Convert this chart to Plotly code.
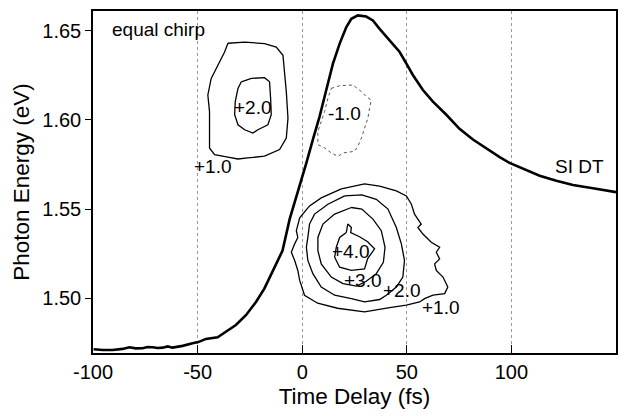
import plotly.graph_objects as go

# SI DT spectral-intensity trace (time delay fs, photon energy eV)
si_t = [-99.7, -95.4, -90.6, -85.9, -82.6, -79.6, -76.3, -73.9, -71.5, -69.1, -66.7, -64.3,
        -62.0, -59.6, -57.2, -52.4, -49.7, -46.0, -40.4, -36.5, -31.7, -26.9, -22.1, -18.1,
        -15.0, -11.8, -9.4, -6.0, -1.2, 2.0, 5.1, 8.3, 11.5, 14.7, 17.9, 21.1, 23.5, 26.6,
        30.6, 33.8, 37.0, 41.8, 46.6, 49.8, 52.9, 57.7, 62.5, 68.9, 75.2, 81.6, 88.8, 94.4,
        99.1, 107.1, 113.5, 121.5, 129.4, 139.0, 148.5, 150.0]
si_e = [1.4714, 1.4710, 1.4710, 1.4716, 1.4725, 1.4719, 1.4720, 1.4727, 1.4725, 1.4721, 1.4723, 1.4730,
        1.4723, 1.4728, 1.4733, 1.4748, 1.4754, 1.4772, 1.4781, 1.4812, 1.4850, 1.4905, 1.4979, 1.5054,
        1.5128, 1.5212, 1.5267, 1.5444, 1.5629, 1.5759, 1.5890, 1.6019, 1.6168, 1.6316, 1.6428, 1.6521,
        1.6567, 1.6586, 1.6580, 1.6558, 1.6511, 1.6447, 1.6381, 1.6316, 1.6252, 1.6168, 1.6103, 1.6029,
        1.5950, 1.5890, 1.5834, 1.5792, 1.5759, 1.5719, 1.5687, 1.5659, 1.5635, 1.5617, 1.5598, 1.5595]

# contour outlines (level, time, energy)
c_top1_t = [-35.5, -27.5, -18.0, -12.4, -9.2, -8.4, -7.6, -6.8, -7.6, -10.8, -18.0, -26.0, -30.7,
            -35.5, -41.9, -44.3, -44.3, -44.3, -45.1, -43.5, -40.3, -37.1, -35.5]
c_top1_e = [1.6430, 1.6437, 1.6428, 1.6409, 1.6363, 1.6270, 1.6159, 1.6010, 1.5898, 1.5834, 1.5797,
            1.5787, 1.5781, 1.5791, 1.5806, 1.5843, 1.5936, 1.6047, 1.6140, 1.6233, 1.6307, 1.6381, 1.6430]
c_top2_t = [-29.1, -24.3, -18.0, -15.6, -15.1, -14.8, -16.4, -21.2, -23.6, -27.5, -30.7, -32.3,
            -32.0, -30.7, -29.1]
c_top2_e = [1.6214, 1.6233, 1.6237, 1.6214, 1.6121, 1.6029, 1.5973, 1.5945, 1.5926, 1.5945, 1.5973,
            1.6029, 1.6103, 1.6177, 1.6214]
c_neg1_t = [13.9, 17.9, 24.2, 28.3, 30.6, 33.0, 32.2, 31.4, 29.8, 28.3, 26.6, 25.0, 19.5, 17.1,
            13.9, 10.7, 7.5, 7.5, 9.1, 10.7, 12.3, 13.9]
c_neg1_e = [1.6177, 1.6192, 1.6196, 1.6159, 1.6131, 1.6112, 1.6066, 1.6010, 1.5954, 1.5898, 1.5852,
            1.5824, 1.5815, 1.5796, 1.5815, 1.5843, 1.5862, 1.5936, 1.5991, 1.6047, 1.6121, 1.6177]
c_b1_t = [18.7, 29.8, 37.0, 45.0, 49.8, 52.2, 53.7, 56.9, 55.3, 57.7, 61.7, 65.7, 64.1, 65.7, 63.3,
          64.1, 67.3, 69.6, 68.1, 62.5, 58.5, 56.1, 49.8, 41.8, 29.8, 16.9, 7.4, 1.1, -1.2, -2.1,
          -3.6, -5.2, -3.6, -2.1, -2.8, -1.2, 3.5, 9.1, 18.7]
c_b1_e = [1.5613, 1.5641, 1.5629, 1.5602, 1.5574, 1.5527, 1.5472, 1.5416, 1.5397, 1.5360, 1.5314,
          1.5286, 1.5258, 1.5221, 1.5193, 1.5156, 1.5119, 1.5063, 1.5026, 1.5017, 1.4998, 1.4979,
          1.4961, 1.4948, 1.4924, 1.4944, 1.4972, 1.5017, 1.5100, 1.5156, 1.5212, 1.5258, 1.5305,
          1.5341, 1.5379, 1.5451, 1.5518, 1.5563, 1.5613]
c_b2_t = [20.3, 28.5, 35.4, 41.0, 45.0, 47.4, 48.9, 48.1, 45.0, 40.2, 37.0, 29.8, 23.5, 15.5, 9.1,
          5.1, 2.7, 2.0, 2.7, 3.5, 5.9, 12.3, 20.3]
c_b2_e = [1.5574, 1.5580, 1.5555, 1.5500, 1.5397, 1.5305, 1.5212, 1.5119, 1.5063, 1.5017, 1.4993,
          1.4980, 1.4998, 1.5017, 1.5063, 1.5138, 1.5212, 1.5286, 1.5341, 1.5416, 1.5472, 1.5527, 1.5574]
c_b3_t = [23.5, 28.5, 33.8, 37.8, 39.6, 38.8, 35.4, 30.6, 26.0, 19.5, 13.9, 9.1, 7.5, 7.5, 9.9,
          15.5, 23.5]
c_b3_e = [1.5509, 1.5500, 1.5444, 1.5379, 1.5286, 1.5202, 1.5138, 1.5095, 1.5068, 1.5082, 1.5119,
          1.5193, 1.5267, 1.5341, 1.5416, 1.5472, 1.5509]
c_b4_t = [21.1, 21.8, 23.5, 23.2, 27.4, 31.3, 34.6, 31.3, 29.8, 23.5, 17.9, 15.5, 16.3, 17.9, 21.1]
c_b4_e = [1.5369, 1.5416, 1.5397, 1.5368, 1.5345, 1.5317, 1.5277, 1.5223, 1.5165, 1.5156, 1.5174,
          1.5230, 1.5286, 1.5341, 1.5369]

# text labels
lab_text = ["+2.0", "+1.0", "-1.0", "+4.0", "+3.0", "+2.0", "+1.0", "SI DT"]
lab_t = [-23.6, -42.8, 20.3, 23.5, 29.2, 47.6, 66.2, 132.6]
lab_e = [1.6069, 1.5741, 1.6038, 1.5262, 1.5100, 1.5045, 1.4950, 1.5741]

x_ticks = [-100, -50, 0, 50, 100, 150]
x_tick_text = ["-100", "-50", "0", "50", "100", "150"]
y_ticks = [1.50, 1.55, 1.60, 1.65]
y_tick_text = ["1.50", "1.55", "1.60", "1.65"]

FONT = "Liberation Sans, Arial, Helvetica, sans-serif"

fig = go.Figure()

solid_contours = [(c_top1_t, c_top1_e), (c_top2_t, c_top2_e), (c_b1_t, c_b1_e),
                  (c_b2_t, c_b2_e), (c_b3_t, c_b3_e), (c_b4_t, c_b4_e)]
for ct, ce in solid_contours:
    fig.add_trace(go.Scatter(x=ct, y=ce, mode="lines",
                             line=dict(color="black", width=1.3), showlegend=False,
                             hoverinfo="skip"))
fig.add_trace(go.Scatter(x=c_neg1_t, y=c_neg1_e, mode="lines",
                         line=dict(color="#555555", width=1, dash="dot"), showlegend=False,
                         hoverinfo="skip"))
fig.add_trace(go.Scatter(x=si_t, y=si_e, mode="lines",
                         line=dict(color="black", width=2.6), showlegend=False))

for txt, t, e in zip(lab_text, lab_t, lab_e):
    fig.add_annotation(x=t, y=e, text=txt, showarrow=False,
                       font=dict(family=FONT, size=19, color="black"))

fig.add_annotation(x=-92.1, y=1.651, text="equal chirp", showarrow=False, xanchor="left",
                   font=dict(family=FONT, size=19, color="black"))

fig.update_layout(
    width=631, height=416,
    margin=dict(l=93, r=15, t=9, b=63),
    paper_bgcolor="white", plot_bgcolor="white",
    font=dict(family=FONT, color="black"),
    xaxis=dict(range=[-100, 150], tickvals=x_ticks, ticktext=x_tick_text,
               ticks="inside", ticklen=8,
               tickcolor="black", showline=True, mirror=True, linecolor="black", linewidth=1.5,
               showgrid=True, gridcolor="#999999", griddash="dot", gridwidth=1,
               zeroline=False, tickfont=dict(size=20, family=FONT),
               title=dict(text="Time Delay (fs)", font=dict(size=22.5, family=FONT), standoff=6)),
    yaxis=dict(range=[1.4693, 1.6611], tickvals=y_ticks, ticktext=y_tick_text,
               ticks="outside", ticklen=6, tickcolor="black",
               showline=True, mirror=True, linecolor="black", linewidth=1.5,
               showgrid=False, zeroline=False, tickfont=dict(size=20, family=FONT),
               title=dict(text="Photon Energy (eV)", font=dict(size=22.5, family=FONT), standoff=6)),
)

fig.write_html("out.html")
